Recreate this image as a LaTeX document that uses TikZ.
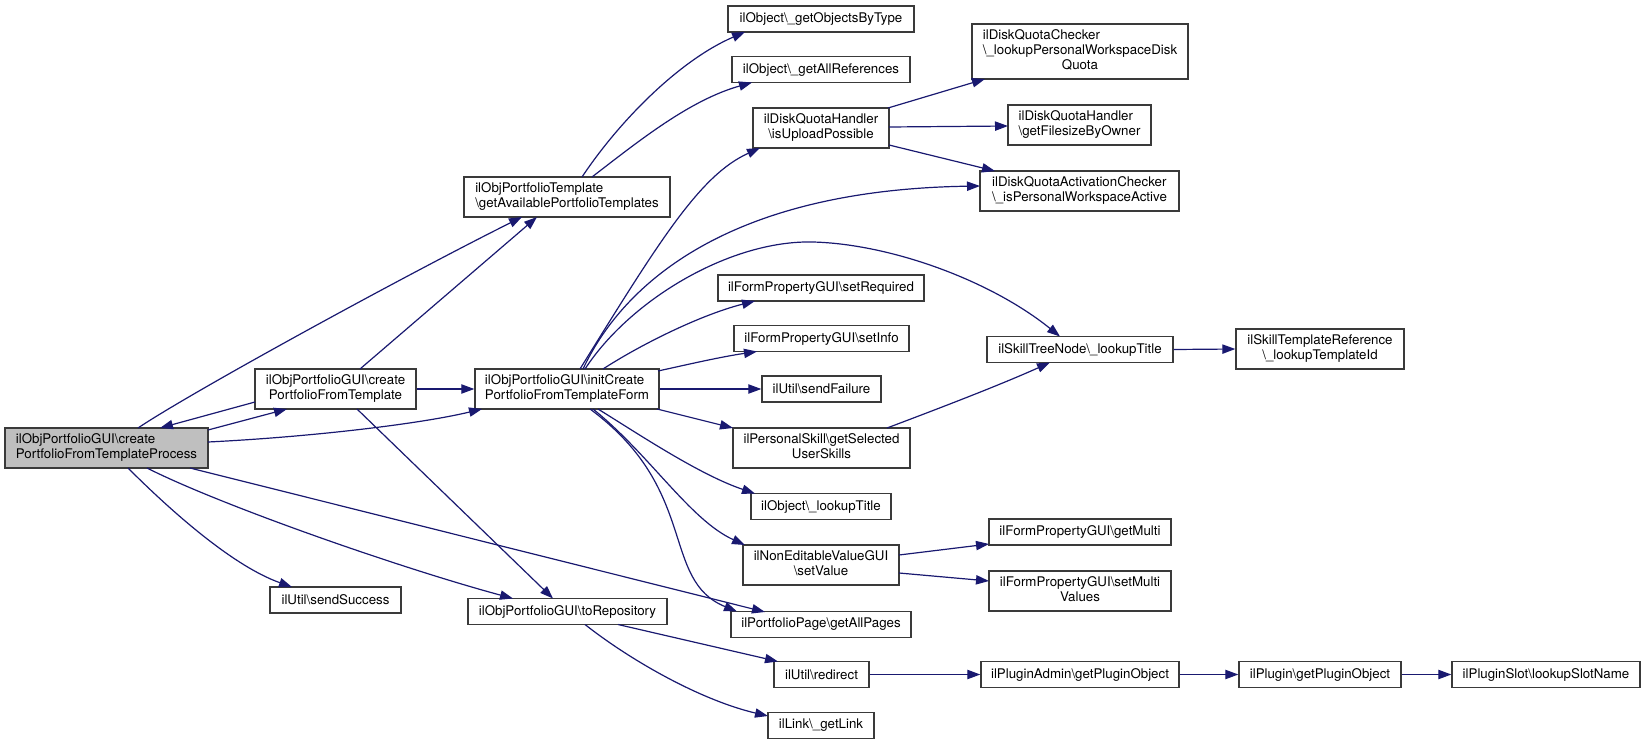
\documentclass[tikz,border=0pt]{standalone}
\usepackage{fontspec}
\setmainfont{TeX Gyre Heros}
\usetikzlibrary{arrows.meta}
\definecolor{edgecol}{HTML}{191970}
\definecolor{nodeline}{HTML}{3A3A3A}
\definecolor{mainfill}{HTML}{BFBFBF}
\newcommand\bsl{\textbackslash}
\newcommand\twol[2]{\begin{tabular}{@{}l@{}}#1\\\multicolumn{1}{@{}c@{}}{#2}\end{tabular}}
\newcommand\threel[3]{\begin{tabular}{@{}l@{}}#1\\#2\\\multicolumn{1}{@{}c@{}}{#3}\end{tabular}}
\tikzset{
  box/.style={draw=nodeline, line width=1.33pt, fill=white, inner sep=0pt,
    font=\fontsize{13.3}{14.7}\selectfont},
  edge/.style={draw=edgecol, line width=1.2pt, -{Triangle[length=13pt,width=9.3pt]}},
}
\newcommand\bx[5]{\node[box, minimum width=#3pt, minimum height=#4pt] (#1) at (#2) {#5};}
\begin{document}
\begin{tikzpicture}[x=1pt,y=-1pt]
\useasboundingbox (0,0) rectangle (1641,744);
% nodes
\node[box, fill=mainfill, minimum width=203pt, minimum height=40pt] (main) at (106.5,448) {\twol{ilObjPortfolioGUI\bsl create}{PortfolioFromTemplateProcess}};
\bx{cpft}{335.5,389}{161}{40}{\twol{ilObjPortfolioGUI\bsl create}{PortfolioFromTemplate}}
\bx{gapt}{567,197}{206}{40}{\twol{ilObjPortfolioTemplate}{\bsl getAvailablePortfolioTemplates}}
\bx{icpft}{567,389}{184}{40}{\twol{ilObjPortfolioGUI\bsl initCreate}{PortfolioFromTemplateForm}}
\bx{ss}{335.5,600}{131}{26}{ilUtil\bsl sendSuccess}
\bx{repo}{567.5,611.5}{199}{26}{ilObjPortfolioGUI\bsl toRepository}
\bx{gobt}{821,19}{186}{26}{ilObject\bsl\_getObjectsByType}
\bx{gar}{821,69.5}{178}{26}{ilObject\bsl\_getAllReferences}
\bx{iup}{821,128}{136}{40}{\twol{ilDiskQuotaHandler}{\bsl isUploadPossible}}
\bx{sreq}{821,288}{206}{26}{ilFormPropertyGUI\bsl setRequired}
\bx{sinfo}{821.5,338.5}{175}{26}{ilFormPropertyGUI\bsl setInfo}
\bx{sfail}{821.5,389}{119}{26}{ilUtil\bsl sendFailure}
\bx{pskill}{821.5,448}{177}{40}{\twol{ilPersonalSkill\bsl getSelected}{UserSkills}}
\bx{olt}{821,506.5}{140}{26}{ilObject\bsl\_lookupTitle}
\bx{nev}{821,565}{156}{40}{\twol{ilNonEditableValueGUI}{\bsl setValue}}
\bx{gap}{821,624.5}{180}{26}{ilPortfolioPage\bsl getAllPages}
\bx{redir}{821.5,674.5}{95}{26}{ilUtil\bsl redirect}
\bx{link}{821,725.5}{106}{26}{ilLink\bsl\_getLink}
\bx{dqc}{1080,51.5}{216}{55}{\threel{ilDiskQuotaChecker}{\bsl\_lookupPersonalWorkspaceDisk}{Quota}}
\bx{gfo}{1079.5,125}{143}{40}{\twol{ilDiskQuotaHandler}{\bsl getFilesizeByOwner}}
\bx{dqac}{1079.5,191}{199}{40}{\twol{ilDiskQuotaActivationChecker}{\bsl\_isPersonalWorkspaceActive}}
\bx{stn}{1080,349.5}{186}{26}{ilSkillTreeNode\bsl\_lookupTitle}
\bx{gm}{1080,532}{182}{26}{ilFormPropertyGUI\bsl getMulti}
\bx{smv}{1080,591}{182}{40}{\twol{ilFormPropertyGUI\bsl setMulti}{Values}}
\bx{pa}{1080,674.5}{198}{26}{ilPluginAdmin\bsl getPluginObject}
\bx{str}{1320,349}{168}{40}{\twol{ilSkillTemplateReference}{\bsl\_lookupTemplateId}}
\bx{plg}{1320,674.5}{162}{26}{ilPlugin\bsl getPluginObject}
\bx{pls}{1546,674.5}{188}{26}{ilPluginSlot\bsl lookupSlotName}
% edges
\draw[edge] ([shift={(101.5,-18)}]main.center) -- ([shift={(-48.5,20)}]cpft.center);
\draw[edge] ([shift={(-80.5,13)}]cpft.center) -- ([shift={(53.5,-20)}]main.center);
\draw[edge] ([shift={(31.5,-20)}]main.center) .. controls (190,393) and (400,278) .. ([shift={(-45,20)}]gapt.center);
\draw[edge] ([shift={(24.5,-20)}]cpft.center) -- ([shift={(-30,20)}]gapt.center);
\draw[edge] (cpft.east) -- (icpft.west);
\draw[edge] ([shift={(101.5,-6)}]main.center) .. controls (310,437) and (420,424) .. ([shift={(-85,20)}]icpft.center);
\draw[edge] ([shift={(83.5,20)}]main.center) -- ([shift={(-56,-12.5)}]gap.center);
\draw[edge] ([shift={(40.5,20)}]main.center) .. controls (220,505) and (400,568) .. ([shift={(-54.5,-13)}]repo.center);
\draw[edge] ([shift={(21.5,20)}]main.center) .. controls (165,505) and (230,565) .. ([shift={(-43.5,-13)}]ss.center);
\draw[edge] ([shift={(21.5,20)}]cpft.center) -- ([shift={(-14.5,-13)}]repo.center);
\draw[edge] ([shift={(15,-20)}]gapt.center) .. controls (620,120) and (680,60) .. ([shift={(-76,13)}]gobt.center);
\draw[edge] ([shift={(25,-20)}]gapt.center) .. controls (640,140) and (690,100) .. ([shift={(-69,13)}]gar.center);
\draw[edge] ([shift={(13,-20)}]icpft.center) .. controls (660,240) and (700,175) .. ([shift={(-61,20)}]iup.center);
\draw[edge] ([shift={(16,-20)}]icpft.center) .. controls (620,290) and (720,190) .. ([shift={(-99.5,-5)}]dqac.center);
\draw[edge] ([shift={(18,-20)}]icpft.center) .. controls (630,300) and (730,240) .. (813,242) .. controls (890,244) and (990,280) .. ([shift={(-20,-13)}]stn.center);
\draw[edge] ([shift={(36,-20)}]icpft.center) .. controls (640,345) and (700,315) .. ([shift={(-66,13)}]sreq.center);
\draw[edge] ([shift={(91,-18)}]icpft.center) .. controls (690,364) and (720,357) .. ([shift={(-64.5,13)}]sinfo.center);
\draw[edge] (icpft.east) -- (sfail.west);
\draw[edge] ([shift={(90,20)}]icpft.center) -- ([shift={(-88.5,-20)}]pskill.center);
\draw[edge] ([shift={(31,20)}]icpft.center) .. controls (640,435) and (700,475) .. ([shift={(-66,-13)}]olt.center);
\draw[edge] ([shift={(26,20)}]icpft.center) .. controls (650,455) and (690,520) .. ([shift={(-76,-20)}]nev.center);
\draw[edge] ([shift={(23,20)}]icpft.center) .. controls (700,490) and (660,580) .. ([shift={(-84,-13)}]gap.center);
\draw[edge] ([shift={(67,-20)}]iup.center) -- ([shift={(-95,27.5)}]dqc.center);
\draw[edge] ([shift={(68,-1)}]iup.center) -- ([shift={(-71.5,1)}]gfo.center);
\draw[edge] ([shift={(68,17)}]iup.center) -- ([shift={(-84.5,-20)}]dqac.center);
\draw[edge] ([shift={(65.5,-20)}]pskill.center) .. controls (940,408) and (1000,385) .. ([shift={(-30,13)}]stn.center);
\draw[edge] (stn.east) -- (str.west);
\draw[edge] ([shift={(78,-10)}]nev.center) -- ([shift={(-91,12)}]gm.center);
\draw[edge] ([shift={(78,8)}]nev.center) -- ([shift={(-91,-10)}]smv.center);
\draw[edge] ([shift={(50.5,13)}]repo.center) -- ([shift={(-43.5,-13)}]redir.center);
\draw[edge] ([shift={(17.5,13)}]repo.center) .. controls (630,660) and (700,700) .. ([shift={(-53,-9.5)}]link.center);
\draw[edge] (redir.east) -- (pa.west);
\draw[edge] (pa.east) -- (plg.west);
\draw[edge] (plg.east) -- (pls.west);
\end{tikzpicture}
\end{document}
